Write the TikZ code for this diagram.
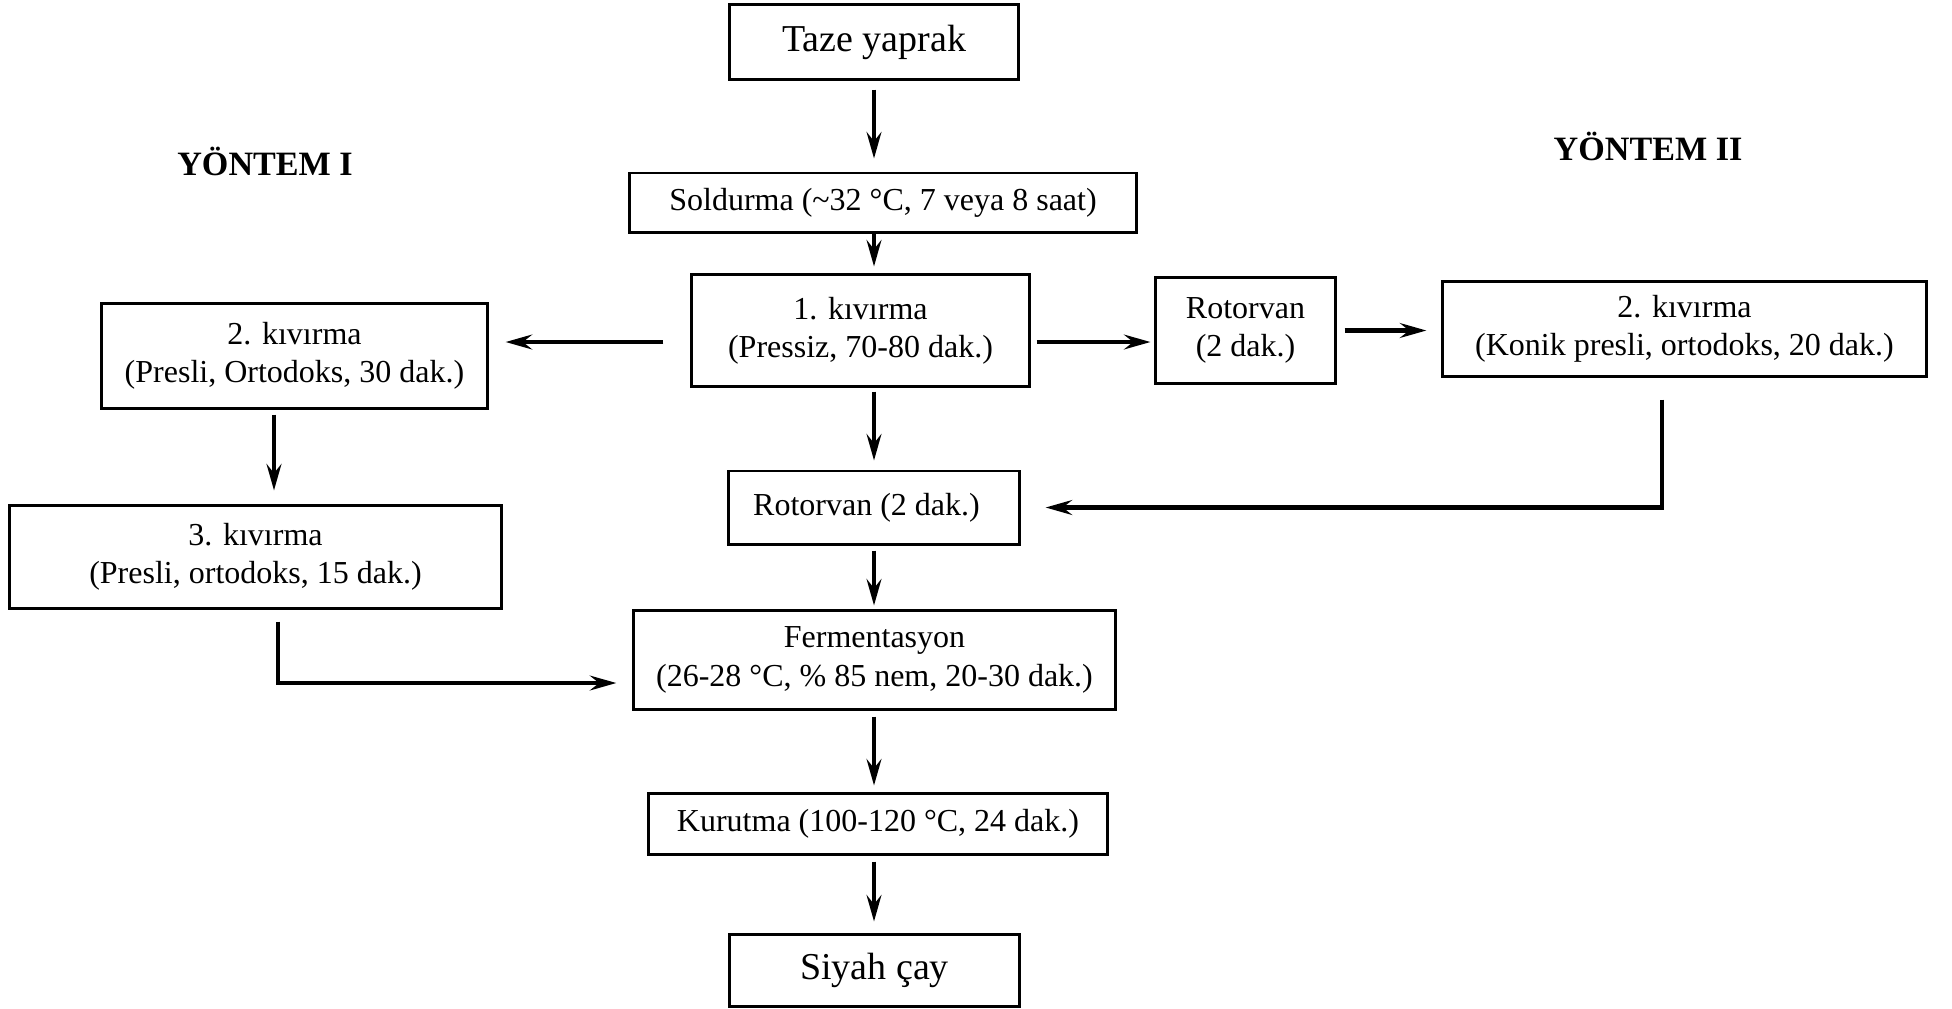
\documentclass[tikz,border=0pt]{standalone}
\usepackage{fontspec}
\setmainfont{Liberation Serif}
\usetikzlibrary{arrows.meta}

\newcommand{\stepfont}{\fontsize{9.1pt}{10.9pt}\selectfont}
\newcommand{\bigstepfont}{\fontsize{10.8pt}{13pt}\selectfont}
\newcommand{\headfont}{\fontsize{9.7pt}{11.6pt}\selectfont\bfseries}

\tikzset{
    stepbox/.style={draw, line width=0.85pt, inner sep=0pt, align=center, font=\stepfont},
    flow/.style={line width=1.2pt, -{Stealth[length=7.5pt,width=4.2pt,inset=2.6pt]}}
}

\begin{document}
\begin{tikzpicture}[x=0.01cm, y=-0.01cm]
    \useasboundingbox (0,0) rectangle (1952,1008);

    \node[font=\headfont, anchor=base] (yontemA) at (265,175) {YÖNTEM I};
    \node[font=\headfont, anchor=base] (yontemB) at (1648,160) {YÖNTEM II};

    % main line
    \node[stepbox, font=\bigstepfont, minimum width=2.89cm, minimum height=0.74cm] (taze) at (874,42) {Taze yaprak};
    \node[stepbox, minimum width=5.06cm, minimum height=0.59cm] (sold) at (883,202.5) {Soldurma (\textasciitilde 32 °C, 7 veya 8 saat)};
    \node[stepbox, minimum width=3.37cm, minimum height=1.11cm] (kiv1) at (860.5,330.5) {1. kıvırma\\(Pressiz, 70-80 dak.)};
    \node[stepbox, minimum width=2.90cm, minimum height=0.73cm] (rot2) at (874,507.5) {Rotorvan (2 dak.)\hspace{1.5mm}};
    \node[stepbox, minimum width=4.81cm, minimum height=0.98cm] (ferm) at (874.5,660) {Fermentasyon\\(26-28 °C, \% 85 nem, 20-30 dak.)};
    \node[stepbox, minimum width=4.58cm, minimum height=0.61cm] (kuru) at (878,823.5) {Kurutma (100-120 °C, 24 dak.)};
    \node[stepbox, font=\bigstepfont, minimum width=2.89cm, minimum height=0.72cm] (siyah) at (874.5,970) {Siyah çay};

    % yontem I
    \node[stepbox, minimum width=3.85cm, minimum height=1.04cm] (kivA) at (294.5,356) {2. kıvırma\\(Presli, Ortodoks, 30 dak.)};
    \node[stepbox, minimum width=4.91cm, minimum height=1.02cm] (kivAA) at (255.5,557) {3. kıvırma\\(Presli, ortodoks, 15 dak.)};

    % yontem II
    \node[stepbox, minimum width=1.79cm, minimum height=1.05cm] (rot1) at (1245.5,330.5) {Rotorvan\\(2 dak.)};
    \node[stepbox, minimum width=4.83cm, minimum height=0.94cm] (kivB) at (1684.5,329) {2. kıvırma\\(Konik presli, ortodoks, 20 dak.)};

    \foreach \a/\b/\s/\e in {taze/sold/0.9/1.3, sold/kiv1/0/0.7, kiv1/rot2/0.4/0.9, rot2/ferm/0.5/0.4, ferm/kuru/0.6/0.6, kuru/siyah/0.6/1.1}
        \draw[flow, shorten <=\s mm, shorten >=\e mm] (\a.south -| taze) -- (\b.north -| taze);

    \draw[flow, shorten <=2.7mm, shorten >=1.7mm] ([shift={(0,11.5)}]kiv1.west) -- ([shift={(0,-14)}]kivA.east);
    \draw[flow, shorten <=0.5mm, shorten >=1.4mm] ([shift={(-20.5,0)}]kivA.south) -- ([shift={(18.5,0)}]kivAA.north);
    \draw[flow, shorten <=1.2mm, shorten >=1.6mm] ([shift={(22.5,0)}]kivAA.south) |- ([shift={(0,23)}]ferm.west);

    \draw[flow, shorten <=0.6mm, shorten >=0.4mm] ([shift={(0,11.5)}]kiv1.east) -- ([shift={(0,11.5)}]rot1.west);
    \draw[flow, shorten <=0.8mm, shorten >=1.5mm] (rot1.east) -- (rot1.east -| kivB.west);
    \draw[flow, shorten <=2.2mm, shorten >=2.5mm] ([shift={(-22.5,0)}]kivB.south) |- (rot2.east);

\end{tikzpicture}
\end{document}
